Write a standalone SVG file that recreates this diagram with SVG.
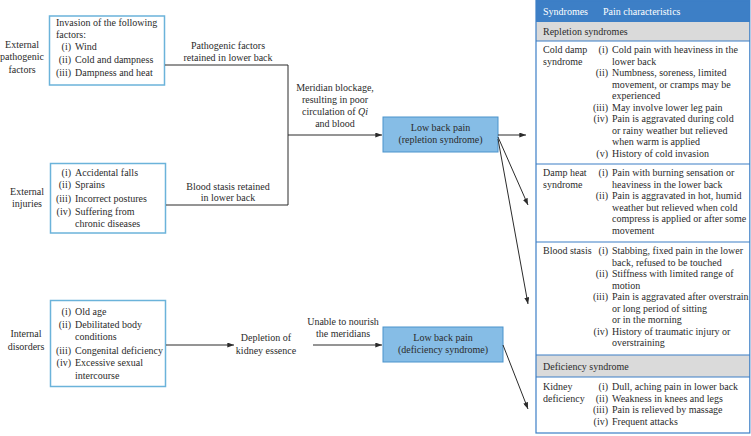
<svg xmlns="http://www.w3.org/2000/svg" width="751" height="436" viewBox="0 0 751 436" font-family="'Liberation Serif', 'Times New Roman', serif">
<style>
text{font-family:"Liberation Serif","Times New Roman",serif;font-size:10px;fill:#2b2b2b}
.c{text-anchor:middle}
.r{text-anchor:end}
.src{fill:#fff;stroke:#6bb3da;stroke-width:1.5}
.node{fill:#86bde6;stroke:#4a93cc;stroke-width:1}
.conn{stroke:#2b2b2b;stroke-width:1;fill:none}
.tb{stroke:#3d7fc6;stroke-width:1.2;fill:none}
.hdr{fill:#3d7fc6}
.gray{fill:#dadada}
.wt{fill:#fff}
</style>
<defs>
<marker id="ah" viewBox="0 0 8 6" refX="8" refY="3" markerWidth="7" markerHeight="5" orient="auto" markerUnits="userSpaceOnUse"><path d="M0,0 L8,3 L0,6 z" fill="#2b2b2b"/></marker>
</defs>

<g id="label-external-pathogenic">
<text class="c" x="22" y="47.5">External</text>
<text class="c" x="22" y="60">pathogenic</text>
<text class="c" x="22" y="72.5">factors</text>
</g>
<g id="label-external-injuries">
<text class="c" x="27" y="194.5">External</text>
<text class="c" x="27" y="206.5">injuries</text>
</g>
<g id="label-internal-disorders">
<text class="c" x="26" y="337">Internal</text>
<text class="c" x="26" y="349.5">disorders</text>
</g>

<g id="box-pathogenic">
<rect class="src" x="49.5" y="16" width="115" height="69"/>
<text x="56" y="26">Invasion of the following</text>
<text x="56" y="37.5">factors:</text>
<text class="r" x="71" y="49.5">(i)</text><text x="75" y="49.5">Wind</text>
<text class="r" x="71" y="62.5">(ii)</text><text x="75" y="62.5">Cold and dampness</text>
<text class="r" x="71" y="76">(iii)</text><text x="75" y="76">Dampness and heat</text>
</g>

<g id="box-injuries">
<rect class="src" x="50.5" y="163.5" width="115" height="69.5"/>
<text class="r" x="71" y="175.5">(i)</text><text x="75" y="175.5">Accidental falls</text>
<text class="r" x="71" y="188">(ii)</text><text x="75" y="188">Sprains</text>
<text class="r" x="71" y="202">(iii)</text><text x="75" y="202">Incorrect postures</text>
<text class="r" x="71" y="215">(iv)</text><text x="75" y="215">Suffering from</text>
<text x="75" y="227">chronic diseases</text>
</g>

<g id="box-internal">
<rect class="src" x="50.5" y="300.5" width="115" height="86"/>
<text class="r" x="71" y="314.5">(i)</text><text x="75" y="314.5">Old age</text>
<text class="r" x="71" y="327.5">(ii)</text><text x="75" y="327.5">Debilitated body</text>
<text x="75" y="340">conditions</text>
<text class="r" x="71" y="353.5">(iii)</text><text x="75" y="353.5">Congenital deficiency</text>
<text class="r" x="71" y="366">(iv)</text><text x="75" y="366">Excessive sexual</text>
<text x="75" y="378.5">intercourse</text>
</g>

<g id="node-repletion">
<rect class="node" x="383" y="117" width="115" height="35"/>
<text class="c" x="440.5" y="131">Low back pain</text>
<text class="c" x="440.5" y="143">(repletion syndrome)</text>
</g>

<g id="node-deficiency">
<rect class="node" x="383" y="327" width="120" height="35"/>
<text class="c" x="443" y="340.5">Low back pain</text>
<text class="c" x="443" y="353">(deficiency syndrome)</text>
</g>

<g id="connectors">
<path class="conn" d="M165,65 H288 V205 H166"/>
<path class="conn" d="M288,135 H382" marker-end="url(#ah)"/>
<path class="conn" d="M166,345 H234" marker-end="url(#ah)"/>
<path class="conn" d="M313,345 H382" marker-end="url(#ah)"/>
<path class="conn" d="M498,135 H526" marker-end="url(#ah)"/>
<path class="conn" d="M498,137 L528,205" marker-end="url(#ah)"/>
<path class="conn" d="M498,139 L528,304" marker-end="url(#ah)"/>
<path class="conn" d="M503,345 L528,409" marker-end="url(#ah)"/>
<g id="connector-labels">
<text class="c" x="228" y="49">Pathogenic factors</text>
<text class="c" x="228" y="61">retained in lower back</text>
<text class="c" x="335" y="90.5">Meridian blockage,</text>
<text class="c" x="335" y="102.5">resulting in poor</text>
<text class="c" x="335" y="114.5">circulation of <tspan font-style="italic">Qi</tspan></text>
<text class="c" x="335" y="126.5">and blood</text>
<text class="c" x="228" y="189.5">Blood stasis retained</text>
<text class="c" x="228" y="201">in lower back</text>
<text class="c" x="343" y="324.5">Unable to nourish</text>
<text class="c" x="343" y="336.5">the meridians</text>
</g>
</g>

<g id="node-depletion">
<text class="c" x="266" y="340.5">Depletion of</text>
<text class="c" x="266" y="353.5">kidney essence</text>
</g>

<g id="table">
<rect class="hdr" x="536" y="0.5" width="214" height="21"/>
<rect class="gray" x="536" y="21.5" width="214" height="19.5"/>
<rect class="gray" x="536" y="355" width="214" height="22"/>
<rect class="tb" x="536" y="0.6" width="213.8" height="432.4"/>
<path class="tb" d="M536,21.5 H750 M536,41 H750 M536,164 H750 M536,242 H750 M536,355 H750 M536,377 H750"/>
<text class="wt" x="543" y="14.5">Syndromes</text>
<text class="wt" x="603" y="14.5">Pain characteristics</text>
<text x="543" y="35">Repletion syndromes</text>

<g id="row-cold-damp">
<text x="543" y="53">Cold damp</text>
<text x="543" y="64.5">syndrome</text>
<text class="r" x="608" y="53">(i)</text><text x="612" y="53">Cold pain with heaviness in the</text>
<text x="612" y="64.5">lower back</text>
<text class="r" x="608" y="76">(ii)</text><text x="612" y="76">Numbness, soreness, limited</text>
<text x="612" y="87.5">movement, or cramps may be</text>
<text x="612" y="99">experienced</text>
<text class="r" x="608" y="110.5">(iii)</text><text x="612" y="110.5">May involve lower leg pain</text>
<text class="r" x="608" y="122">(iv)</text><text x="612" y="122">Pain is aggravated during cold</text>
<text x="612" y="133.5">or rainy weather but relieved</text>
<text x="612" y="145">when warm is applied</text>
<text class="r" x="608" y="156.5">(v)</text><text x="612" y="156.5">History of cold invasion</text>
</g>

<g id="row-damp-heat">
<text x="543" y="176">Damp heat</text>
<text x="543" y="187.5">syndrome</text>
<text class="r" x="608" y="176">(i)</text><text x="612" y="176">Pain with burning sensation or</text>
<text x="612" y="187.5">heaviness in the lower back</text>
<text class="r" x="608" y="199">(ii)</text><text x="612" y="199">Pain is aggravated in hot, humid</text>
<text x="612" y="210.5">weather but relieved when cold</text>
<text x="612" y="222">compress is applied or after some</text>
<text x="612" y="233.5">movement</text>
</g>

<g id="row-blood-stasis">
<text x="543" y="254">Blood stasis</text>
<text class="r" x="608" y="254">(i)</text><text x="612" y="254">Stabbing, fixed pain in the lower</text>
<text x="612" y="265.5">back, refused to be touched</text>
<text class="r" x="608" y="277">(ii)</text><text x="612" y="277">Stiffness with limited range of</text>
<text x="612" y="288.5">motion</text>
<text class="r" x="608" y="300">(iii)</text><text x="612" y="300">Pain is aggravated after overstrain</text>
<text x="612" y="311.5">or long period of sitting</text>
<text x="612" y="323">or in the morning</text>
<text class="r" x="608" y="334.5">(iv)</text><text x="612" y="334.5">History of traumatic injury or</text>
<text x="612" y="346">overstraining</text>
</g>

<text x="543" y="369.5">Deficiency syndrome</text>

<g id="row-kidney">
<text x="543" y="390">Kidney</text>
<text x="543" y="401.5">deficiency</text>
<text class="r" x="608" y="390">(i)</text><text x="612" y="390">Dull, aching pain in lower back</text>
<text class="r" x="608" y="401.5">(ii)</text><text x="612" y="401.5">Weakness in knees and legs</text>
<text class="r" x="608" y="413">(iii)</text><text x="612" y="413">Pain is relieved by massage</text>
<text class="r" x="608" y="424.5">(iv)</text><text x="612" y="424.5">Frequent attacks</text>
</g>
</g>
</svg>
